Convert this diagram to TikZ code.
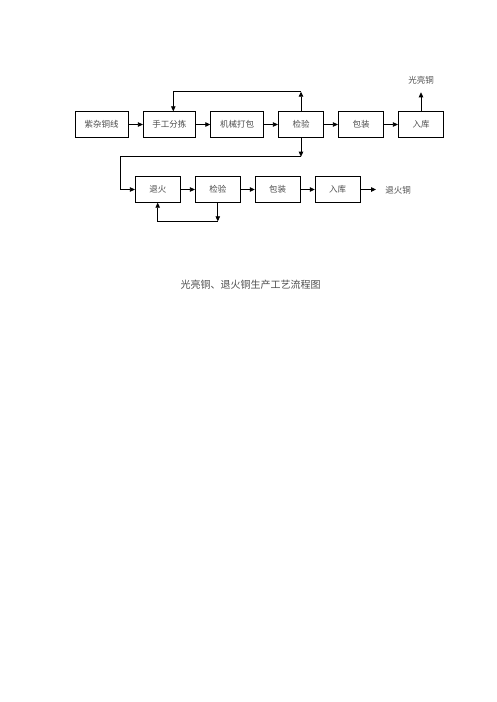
\documentclass[tikz,border=0pt]{standalone}
\usepackage{fontspec}
\setmainfont{Noto Sans CJK SC}
\usetikzlibrary{arrows.meta}
\begin{document}
\begin{tikzpicture}[x=1pt,y=-1pt,
  box/.style={draw=black,text=black!70,line width=0.8pt,minimum height=25.6pt,inner sep=0pt,font=\fontsize{8.5}{10}\selectfont},
  lbl/.style={text=black!70,font=\fontsize{8.5}{10}\selectfont},
  arr/.style={line width=0.8pt,-{Triangle[length=5pt,width=4.5pt]}},
  ln/.style={line width=0.8pt}]
\useasboundingbox (0,0) rectangle (496,702);
% row 1
\node[box,minimum width=53pt] (a) at (101.7,124.5) {紫杂铜线};
\node[box,minimum width=52pt] (b) at (169.3,124.5) {手工分拣};
\node[box,minimum width=52.6pt] (c) at (237,124.5) {机械打包};
\node[box,minimum width=45.4pt] (d) at (301,124.5) {检验};
\node[box,minimum width=45.4pt] (e) at (361,124.5) {包装};
\node[box,minimum width=45.4pt] (f) at (421,124.5) {入库};
\node[lbl] (g) at (421,80.5) {光亮铜};
% row 2
\node[box,minimum width=45pt] (h) at (157.8,189.5) {退火};
\node[box,minimum width=45pt] (i) at (217.8,189.5) {检验};
\node[box,minimum width=45pt] (j) at (277.7,189.5) {包装};
\node[box,minimum width=45pt] (k) at (337.7,189.5) {入库};
\node[lbl] (l) at (398,190.5) {退火铜};
\coordinate (lend) at (376,189.5);
\coordinate (gtop) at (421,92.3);
% caption
\node[text=black!70,font=\fontsize{10}{12}\selectfont] (cap) at (250.7,285) {光亮铜、退火铜生产工艺流程图};
% arrows row 1
\draw[arr] (a) -- (b);
\draw[arr] (b) -- (c);
\draw[arr] (c) -- (d);
\draw[arr] (d) -- (e);
\draw[arr] (e) -- (f);
\draw[arr] (f.north) -- (gtop);
% feedback top
\coordinate (t1) at (301,91.7);
\coordinate (t2) at (173.3,91.7);
\draw[arr] (d.north) -- (t1);
\draw[arr] (t1) -- (t2) -- (t2 |- b.north);
% down to row 2
\coordinate (u1) at (301,156.7);
\coordinate (u2) at (120.7,156.7);
\draw[arr] (d.south) -- (u1);
\draw[arr] (u1) -- (u2) -- (u2 |- h.west) -- (h.west);
% arrows row 2
\draw[arr] (h) -- (i);
\draw[arr] (i) -- (j);
\draw[arr] (j) -- (k);
\draw[arr] (k) -- (lend);
% bottom loop
\coordinate (v1) at (217.8,221.3);
\coordinate (v2) at (157.7,221.3);
\draw[arr] (i.south) -- (v1);
\draw[arr] (v1) -- (v2) -- (v2 |- h.south);
\end{tikzpicture}
\end{document}
